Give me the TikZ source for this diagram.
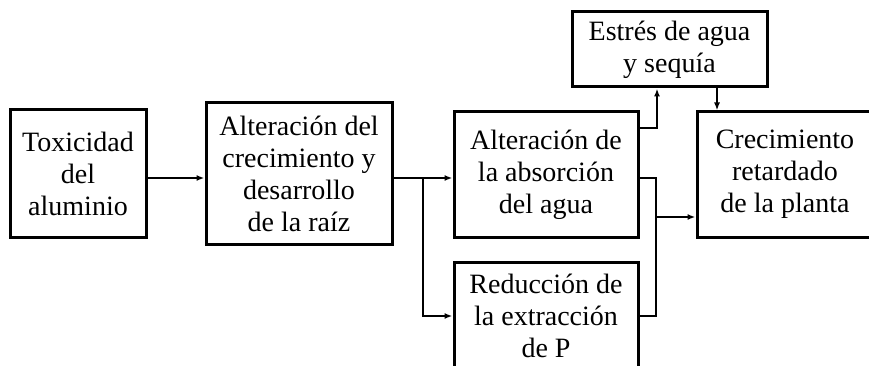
\documentclass[tikz,border=0pt]{standalone}
\usepackage{fontspec}
\setmainfont{Liberation Serif}
\usetikzlibrary{arrows.meta}
\tikzset{font={\fontsize{28pt}{32pt}\selectfont}}

\begin{document}
\begin{tikzpicture}[
  x=1pt, y=-1pt,
  caja/.style={rectangle, draw, line width=3pt, align=center, inner sep=0pt},
  linea/.style={line width=2pt},
  flecha/.style={linea, -{Latex[length=8pt, width=6pt]}}
]
\useasboundingbox (0,0) rectangle (869,366);
\clip (0,0) rectangle (869,366);
\node[caja, minimum width=136pt, minimum height=127pt] (tox) at (78,173.5) {Toxicidad\\del\\aluminio};
\node[caja, minimum width=186pt, minimum height=141pt] (alt) at (299,173.5) {Alteración del\\crecimiento y\\desarrollo\\de la raíz};
\node[caja, minimum width=184pt, minimum height=125pt] (abs) at (546,174.5) {Alteración de\\la absorción\\del agua};
\node[caja, minimum width=184pt, minimum height=108pt] (red) at (546,316) {Reducción de\\la extracción\\de P};
\node[caja, minimum width=195pt, minimum height=75pt] (est) at (669.5,49.5) {Estrés de agua\\y sequía};
\node[caja, minimum width=176pt, minimum height=125pt] (cre) at (785,174.5) {Crecimiento\\retardado\\de la planta};
\coordinate (ramal) at (423,178);
\coordinate (union) at (656,217);
\coordinate (codo) at (657,128);
\coordinate (bajada) at (717,100);
\draw[flecha] (tox.east |- ramal) -- (alt.west |- ramal);
\draw[flecha] (alt.east |- ramal) -- (abs.west |- ramal);
\draw[flecha] (ramal) |- (red.west);
\draw[linea] (abs.east |- ramal) -| (union |- red.east) -- (red.east);
\draw[flecha] (union) -- (cre.west |- union);
\draw[flecha] (abs.east |- codo) -| (est.south -| codo);
\draw[flecha] (est.south -| bajada) -- (cre.north -| bajada);
\end{tikzpicture}
\end{document}
